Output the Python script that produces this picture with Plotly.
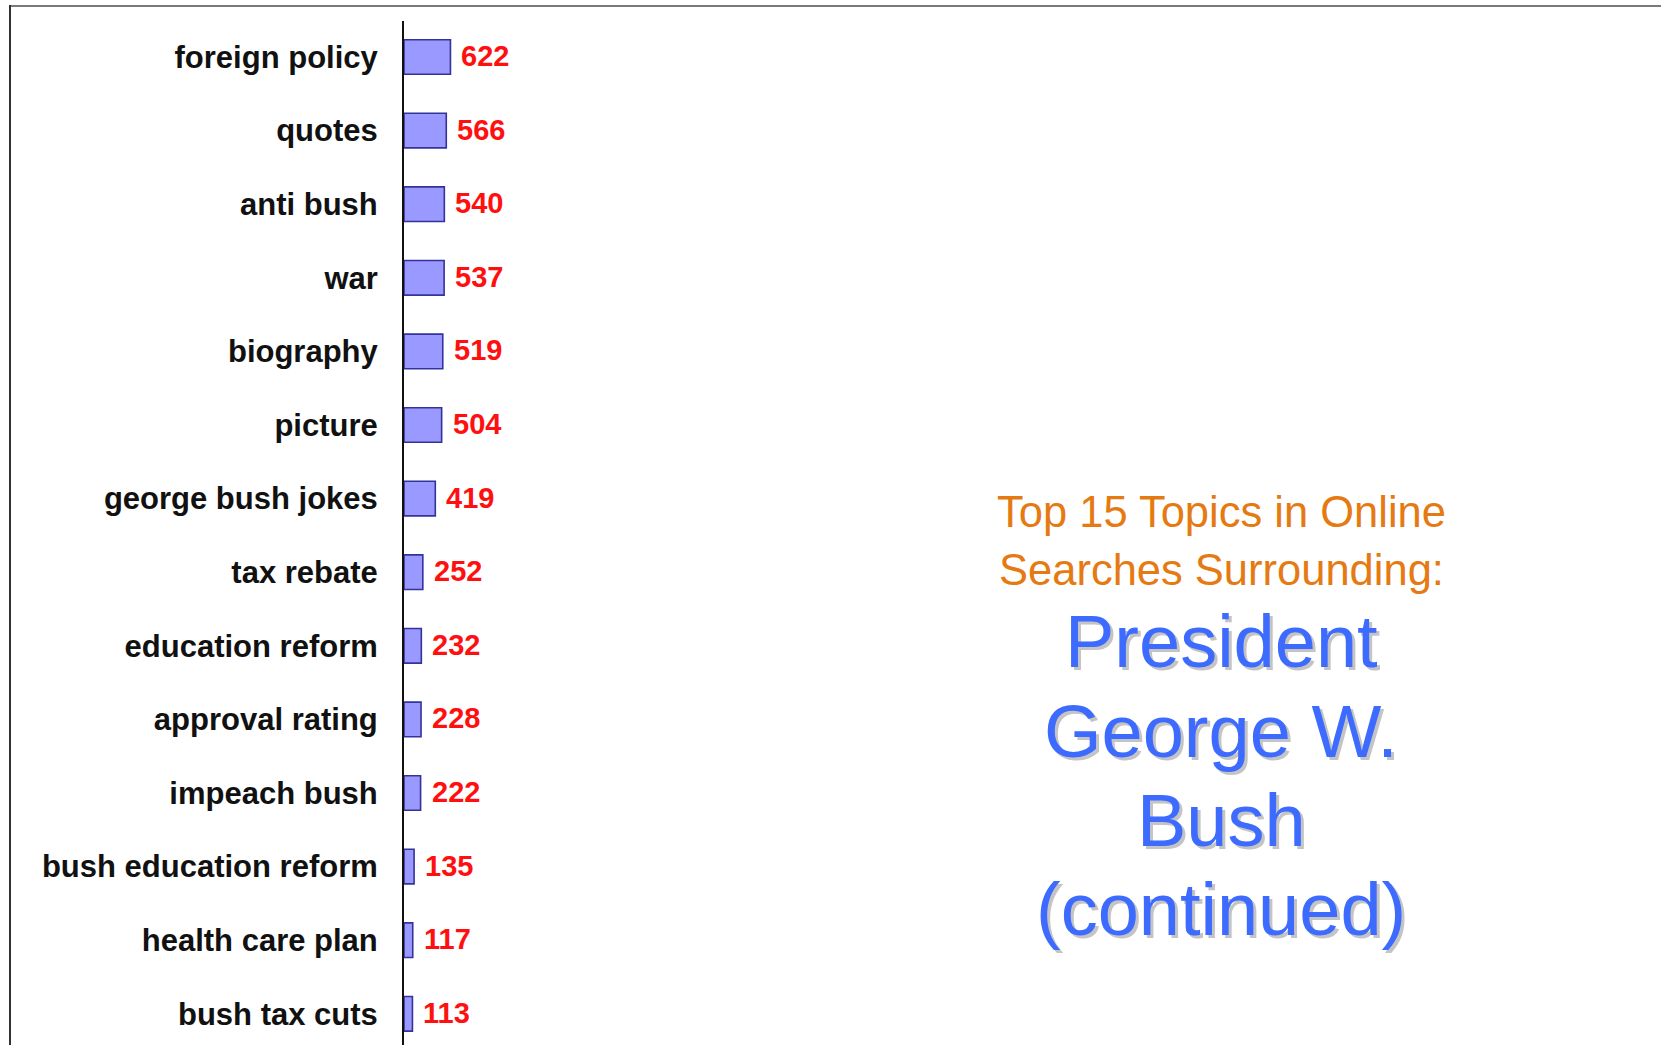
import plotly.graph_objects as go

# ---- data ----
topics = ["foreign policy", "quotes", "anti bush", "war", "biography", "picture",
          "george bush jokes", "tax rebate", "education reform", "approval rating",
          "impeach bush", "bush education reform", "health care plan", "bush tax cuts"]
counts = [622, 566, 540, 537, 519, 504, 419, 252, 232, 228, 222, 135, 117, 113]
subtitle_lines = ["Top 15 Topics in Online", "Searches Surrounding:"]
title_lines = ["President", "George W.", "Bush", "(continued)"]

W, H = 1661, 1045
ML, MT = 404, 21
PW, PH = W - ML, H - MT
FONT = "Arial, 'Liberation Sans', sans-serif"

def px(x):
    return (x - ML) / PW

def py(y):
    return 1 - (y - MT) / PH

idx = list(range(len(topics)))

fig = go.Figure()
fig.add_trace(go.Bar(
    x=counts, y=idx, orientation="h", width=0.47,
    marker=dict(color="#9999FF", line=dict(color="#33339A", width=1.6)),
    hoverinfo="skip",
))

annotations = []
for i, v in zip(idx, counts):
    annotations.append(dict(
        x=v, y=i, xref="x", yref="y", text=str(v), showarrow=False,
        xanchor="left", yanchor="middle", xshift=9, yshift=1,
        font=dict(family=FONT, size=29, color="#FF1010", weight="bold"),
    ))

cx = 1221
SUB = 43.5
BIG = 74
for txt, base in zip(subtitle_lines, [529, 587.5]):
    annotations.append(dict(
        x=px(cx), y=py(base - 0.40 * SUB), xref="paper", yref="paper", text=txt,
        showarrow=False, xanchor="center", yanchor="middle",
        font=dict(family=FONT, size=SUB, color="#E57A12"),
    ))
for txt, base in zip(title_lines, [671.5, 761, 850.5, 939.5]):
    # shadow
    annotations.append(dict(
        x=px(cx + 3), y=py(base - 0.40 * BIG + 3), xref="paper", yref="paper", text=txt,
        showarrow=False, xanchor="center", yanchor="middle",
        font=dict(family=FONT, size=BIG, color="#C4C4C4"),
    ))
    annotations.append(dict(
        x=px(cx), y=py(base - 0.40 * BIG), xref="paper", yref="paper", text=txt,
        showarrow=False, xanchor="center", yanchor="middle",
        font=dict(family=FONT, size=BIG, color="#3D6BFF"),
    ))

shapes = [
    dict(type="line", xref="paper", yref="paper", x0=px(10), x1=px(W + 5), y0=py(6), y1=py(6),
         line=dict(color="#7A7A7A", width=2)),
    dict(type="line", xref="paper", yref="paper", x0=px(10), x1=px(10), y0=py(5), y1=py(H + 5),
         line=dict(color="#333333", width=2)),
]

px_per_unit = 0.0747
fig.update_layout(
    width=W, height=H,
    margin=dict(l=ML, r=0, t=MT, b=0, pad=0),
    paper_bgcolor="white", plot_bgcolor="white",
    showlegend=False,
    xaxis=dict(range=[0, PW / px_per_unit], visible=False, showgrid=False, zeroline=False),
    yaxis=dict(
        range=[(H - 57) / 73.6, -(57 - MT) / 73.6],
        tickmode="array", tickvals=idx, ticktext=topics,
        showline=True, linecolor="#111111", linewidth=2,
        showgrid=False, zeroline=False, ticks="", ticklabelstandoff=18,
        tickfont=dict(family=FONT, size=31, color="#111111", weight="bold"),
    ),
    annotations=annotations,
    shapes=shapes,
)

fig.write_html("out.html", config={"displayModeBar": False},
               post_script="document.body.style.margin='0';document.body.style.overflow='hidden';")
